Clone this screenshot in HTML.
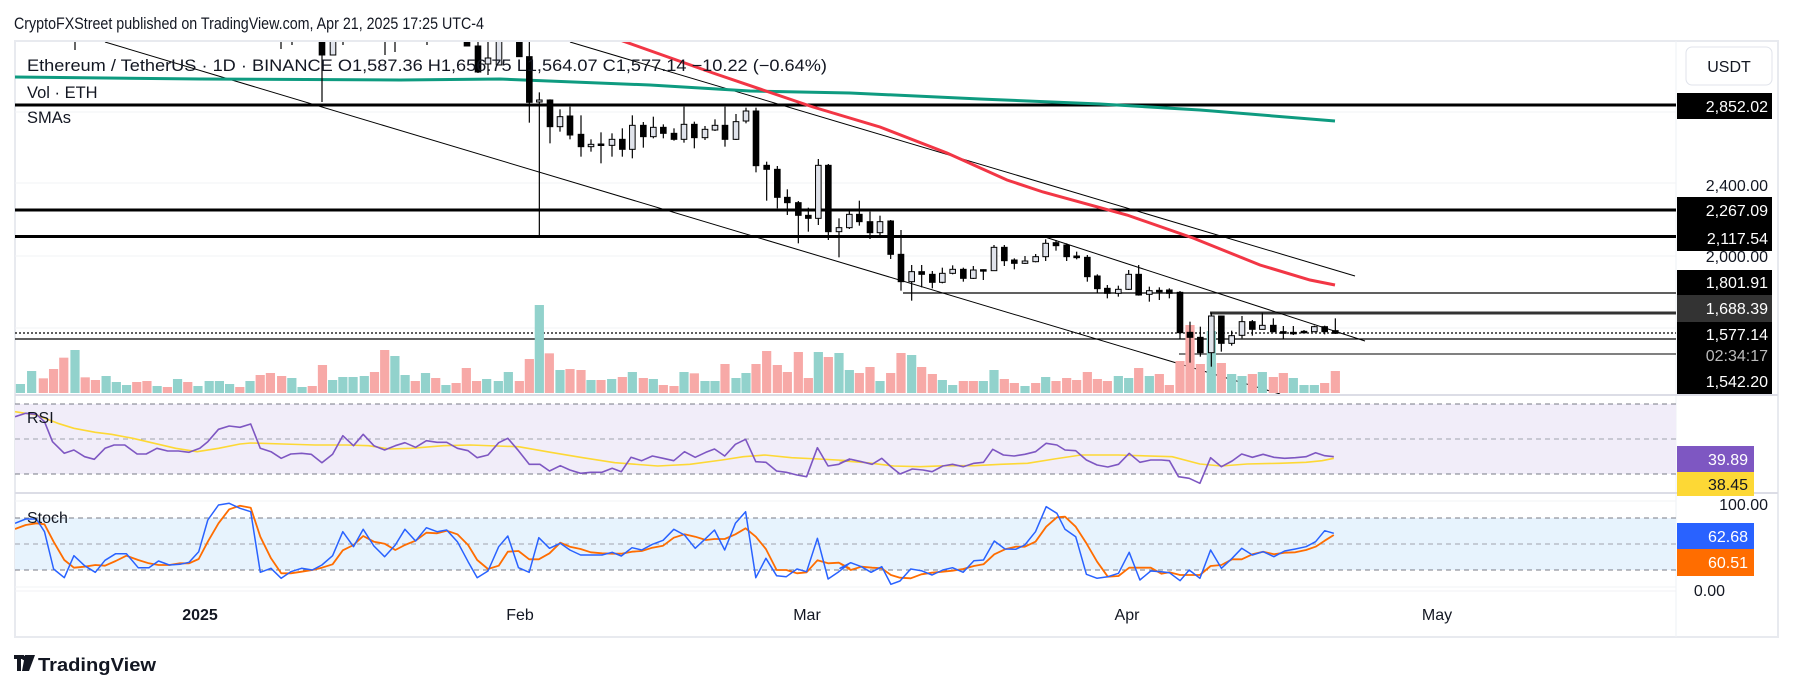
<!DOCTYPE html>
<html><head><meta charset="utf-8">
<style>
html,body{margin:0;padding:0;background:#fff;}
svg{display:block;font-family:"Liberation Sans",sans-serif;}
</style></head>
<body>
<svg id="s" width="1793" height="689" viewBox="0 0 1793 689" xmlns="http://www.w3.org/2000/svg">
<rect width="1793" height="689" fill="#fff"/>
<text x="14" y="29" font-size="17" fill="#131722" textLength="470" lengthAdjust="spacingAndGlyphs">CryptoFXStreet published on TradingView.com, Apr 21, 2025 17:25 UTC-4</text>
<!-- frame -->
<rect x="15" y="41" width="1763" height="596" fill="none" stroke="#e8eaef" stroke-width="2"/>
<line x1="1676" y1="41" x2="1676" y2="637" stroke="#eef0f4" stroke-width="1"/>
<line x1="15" y1="395" x2="1778" y2="395" stroke="#dcdde6" stroke-width="2"/>
<line x1="15" y1="493" x2="1778" y2="493" stroke="#dcdde6" stroke-width="2"/>
<line x1="15" y1="591" x2="1676" y2="591" stroke="#f0f1f4" stroke-width="1"/>
<!-- grid -->
<g stroke="#f2f3f6" stroke-width="1">
<line x1="15" y1="183" x2="1676" y2="183"/><line x1="15" y1="256" x2="1676" y2="256"/><line x1="15" y1="328" x2="1676" y2="328"/><line x1="15" y1="112" x2="1676" y2="112"/>
<line x1="15" y1="501" x2="1676" y2="501"/><line x1="15" y1="587" x2="1676" y2="587"/>
</g>
<!-- RSI band -->
<rect x="15" y="404" width="1661" height="70" fill="#f1edf9"/>
<g stroke="#787b86" stroke-width="1" stroke-dasharray="5 4">
<line x1="15" y1="404" x2="1676" y2="404"/><line x1="15" y1="474" x2="1676" y2="474"/>
</g>
<line x1="15" y1="439" x2="1676" y2="439" stroke="#a0a3ad" stroke-width="1" stroke-dasharray="5 4"/>
<!-- Stoch band -->
<rect x="15" y="518" width="1661" height="52" fill="#e7f3fd"/>
<g stroke="#787b86" stroke-width="1" stroke-dasharray="5 4">
<line x1="15" y1="518" x2="1676" y2="518"/><line x1="15" y1="570" x2="1676" y2="570"/>
</g>
<line x1="15" y1="544" x2="1676" y2="544" stroke="#a0a3ad" stroke-width="1" stroke-dasharray="5 4"/>

<defs><clipPath id="mc"><rect x="15" y="42" width="1661" height="352"/></clipPath>
<clipPath id="pc"><rect x="15" y="396" width="1661" height="195"/></clipPath></defs>

<g id="main" clip-path="url(#mc)"></g>
<g id="ind" clip-path="url(#pc)"></g>

<!-- pane texts -->
<text x="27" y="71" font-size="16.5" fill="#131722" textLength="800" lengthAdjust="spacingAndGlyphs">Ethereum / TetherUS · 1D · BINANCE  O1,587.36  H1,656.75  L1,564.07  C1,577.14  −10.22 (−0.64%)</text>
<text x="27" y="98" font-size="16.5" fill="#131722">Vol · ETH</text>
<text x="27" y="123" font-size="16.5" fill="#131722">SMAs</text>
<text x="27" y="423" font-size="16" fill="#131722">RSI</text>
<text x="27" y="523" font-size="16" fill="#131722">Stoch</text>

<!-- price axis -->
<rect x="1686" y="47" width="86" height="38" rx="6" fill="#fff" stroke="#e0e3eb"/>
<text x="1729" y="72" font-size="16" fill="#131722" text-anchor="middle">USDT</text>
<g font-size="16" text-anchor="end">
<rect x="1677" y="93" width="95" height="26" fill="#000"/><text x="1768" y="112" fill="#fff">2,852.02</text>
<text x="1768" y="191" fill="#131722">2,400.00</text>
<rect x="1677" y="197" width="95" height="54" fill="#000"/><text x="1768" y="216" fill="#fff">2,267.09</text>
<text x="1768" y="244" fill="#fff">2,117.54</text>
<text x="1768" y="262" fill="#131722">2,000.00</text>
<rect x="1677" y="270" width="95" height="25" fill="#000"/><text x="1768" y="288" fill="#fff">1,801.91</text>
<rect x="1677" y="295" width="95" height="27" fill="#333"/><text x="1768" y="314" fill="#fff">1,688.39</text>
<rect x="1677" y="322" width="95" height="72" fill="#000"/><text x="1768" y="340" fill="#fff">1,577.14</text>
<text x="1768" y="361" fill="#bbb">02:34:17</text>
<text x="1768" y="387" fill="#fff">1,542.20</text>
<rect x="1677" y="446" width="77" height="26" fill="#7e57c2"/><text x="1748" y="465" fill="#fff">39.89</text>
<rect x="1677" y="472" width="77" height="24" fill="#fdd835"/><text x="1748" y="490" fill="#131722">38.45</text>
<text x="1768" y="510" fill="#131722">100.00</text>
<rect x="1677" y="523" width="77" height="26" fill="#2962ff"/><text x="1748" y="542" fill="#fff">62.68</text>
<rect x="1677" y="549" width="77" height="27" fill="#ff6d00"/><text x="1748" y="568" fill="#fff">60.51</text>
<text x="1725" y="596" fill="#131722">0.00</text>
</g>
<!-- time axis -->
<g font-size="16" fill="#131722" text-anchor="middle">
<text x="200" y="620" font-weight="bold">2025</text>
<text x="520" y="620">Feb</text><text x="807" y="620">Mar</text><text x="1127" y="620">Apr</text><text x="1437" y="620">May</text>
</g>
<!-- logo -->
<g transform="translate(14,655)">
<path d="M0 0h10v4h-3v12h-4v-12h-3z M11 0h5l-4 16h-4z" fill="#131722"/>
<circle cx="10" cy="3" r="2.2" fill="#131722"/>
<path d="M12 0h9l-6 16h-5z" fill="#131722"/>
</g>
<text x="38" y="671" font-size="18" font-weight="bold" fill="#131722" textLength="118" lengthAdjust="spacingAndGlyphs">TradingView</text>

<script>
var NS="http://www.w3.org/2000/svg";
function E(t,a,p){var e=document.createElementNS(NS,t);for(var k in a)e.setAttribute(k,a[k]);p.appendChild(e);return e;}
var M=document.getElementById('main'), I=document.getElementById('ind');
// horizontal levels
E('line',{x1:15,y1:105,x2:1676,y2:105,stroke:'#000','stroke-width':3},M);
E('line',{x1:15,y1:210,x2:1676,y2:210,stroke:'#000','stroke-width':3},M);
E('line',{x1:15,y1:236.5,x2:1676,y2:236.5,stroke:'#000','stroke-width':3},M);
E('line',{x1:903,y1:293,x2:1676,y2:293,stroke:'#000','stroke-width':1.3},M);
E('line',{x1:1210,y1:313,x2:1676,y2:313,stroke:'#333','stroke-width':3},M);
E('line',{x1:15,y1:333,x2:1676,y2:333,stroke:'#000','stroke-width':1.2,'stroke-dasharray':'2 2'},M);
E('line',{x1:15,y1:339,x2:1676,y2:339,stroke:'#000','stroke-width':1.2},M);
E('line',{x1:1179,y1:354,x2:1676,y2:354,stroke:'#000','stroke-width':1},M);
// diagonals
E('line',{x1:105,y1:42,x2:1280,y2:394,stroke:'#000','stroke-width':1},M);
E('line',{x1:570,y1:42,x2:1355,y2:276,stroke:'#000','stroke-width':1},M);
E('line',{x1:1045,y1:237,x2:1365,y2:341,stroke:'#000','stroke-width':1},M);
// SMAs
E('polyline',{points:'15,77 200,79 400,80 500,79 650,85 750,91 850,93 980,99 1100,104 1200,110 1335,121',fill:'none',stroke:'#0e9b80','stroke-width':3},M);
E('polyline',{points:'600,34 620,40 713,73 813,107 880,127 947,153 1007,180 1043,192 1127,215 1193,238 1260,265 1310,280 1335,285',fill:'none',stroke:'#f23645','stroke-width':3},M);
// volume
var V=[];
var z2="40:1152t 62:1113t 85:1135p 105:1107p 125:1073p 147:1050t 167:1132p 187:1140p 208:1128t 228:1146t 248:1155t 268:1146p 288:1143p 308:1158t 328:1161p 348:1137t 368:1146p 388:1158t 410:1143t 430:1143t 450:1152t 470:1161p 490:1143t 510:1125p 530:1119p 552:1128p 572:1134t 592:1161t 612:1158p 632:1095p 652:1140t 672:1131t 692:1131t 714:1128t 734:1116p 754:1050p 774:1068t 794:1125t 814:1143p 834:1119t 854:1134p 874:1155t 894:1149p 914:1104p 934:1143p";
z2.split(' ').forEach(function(s){var m=s.match(/(\d+):(\d+)([tp])/);V.push([m[1]/1.96,m[2]/3,m[3]]);});
var z3="20:1017t 55:1023t 85:996t 118:1023p 148:957p 178:795t 208:940p 240:990t 270:987p 303:990p 333:1020t 363:1020p 395:1017t 427:1011p 457:996t 490:1014p 520:1017t 550:1035p 582:1038p 612:996t 643:1000p 675:1023t 705:1023t 735:972p 768:1014t 798:999t 828:972p 860:933p 892:975p 922:996p 955:936p 985:1014p 1015:936t 1045:951p 1077:939t 1108:990t 1138:999p 1170:981p 1200:1023t 1232:999p 1263:939p 1295:945t 1325:981p 1357:1002p 1387:1020t 1418:1035t 1450:1023p 1480:1023p";
z3.split(' ').forEach(function(s){var m=s.match(/(\d+):(\d+)([tp])/);V.push([480+m[1]/3,40+m[2]/3,m[3]]);});
var z4="70:603t 102:570t 133:597p 163:609p 195:618t 227:609p 257:591t 288:603p 320:594p 350:600p 382:576p 412:597p 442:603p 475:588t 506:594t 536:564p 568:588t 598:582p 628:615p 660:543p 690:435p 721:552p 754:453t 784:549p 815:582t 846:588t 877:582p 907:576t 940:591p 970:579p 1000:594t 1032:615t 1063:615t 1094:609p 1126:573p";
z4.split(' ').forEach(function(s){var m=s.match(/(\d+):(\d+)([tp])/);V.push([960+m[1]/3,180+m[2]/3,m[3]]);});
V.forEach(function(v){E('rect',{x:v[0]-4.6,y:v[1],width:9.2,height:393-v[1],fill:v[2]=='t'?'#92d2cc':'#f7a9a7'},M);});
// candles [x, bodyTop, bodyBot, wickTop, wickBot, bull]
var C=[];
[[75,0,0,40,50,2],[281,0,0,40,49,2],[292,0,0,40,45,2],[322,40,55,40,102,0],[333,40,55,40,55,1],[343,0,0,40,45,2],[385,0,0,40,55,2],[395,0,0,40,52,2],[427,0,0,40,45,2],[467,40,46,40,46,0],[478,46,72,40,73,0],[488,58,64,40,75,1],[499,40,65,40,65,1]].forEach(function(c){C.push(c);});
var a3=[[118,0,50,0,50,0],[148,50,187,0,248,0],[178,180,186,157,585,1],[210,180,260,178,310,0],[240,230,260,208,275,1],[270,228,285,200,298,0],[303,283,320,226,350,0],[333,313,320,298,335,1],[363,312,315,277,370,0],[396,298,316,280,350,1],[427,298,328,265,350,0],[457,256,328,226,355,1],[490,256,290,246,323,0],[520,262,290,230,295,1],[550,262,280,253,295,0],[582,280,298,265,302,0],[612,253,298,200,308,1],[643,253,293,245,325,0],[675,268,293,258,300,1],[705,256,270,238,273,1],[735,256,298,200,320,0],[768,245,298,222,300,1],[798,213,243,203,250,1],[828,213,377,203,397,0],[860,376,388,365,482,0],[892,388,472,378,505,0],[922,472,488,448,525,0],[955,488,526,483,610,0],[985,526,535,503,575,0],[1015,376,535,357,555,1],[1045,376,575,372,600,0],[1077,563,575,535,652,1],[1108,523,563,513,567,1],[1138,523,545,482,557,0],[1170,545,578,515,597,0],[1200,545,578,527,585,1],[1232,543,643,540,657,0],[1263,643,725,570,752,0],[1295,695,725,675,782,1],[1325,695,703,675,742,0],[1357,703,727,693,745,0],[1387,700,727,683,730,1],[1418,688,700,676,703,1],[1450,688,715,683,725,0],[1480,690,715,678,717,1]];
a3.forEach(function(c){C.push([480+c[0]/3,40+c[1]/3,40+c[2]/3,40+c[3]/3,40+c[4]/3,c[5]]);});
var a4=[[70,269,271,268,300,0],[102,202,272,195,272,1],[133,202,242,195,258,0],[163,240,250,235,268,0],[195,243,250,228,252,1],[227,230,245,222,247,1],[257,190,230,178,243,1],[288,188,197,180,212,0],[320,195,230,190,243,0],[350,228,233,215,238,0],[382,232,290,225,305,0],[412,288,326,283,340,0],[442,325,340,315,355,0],[475,328,340,317,350,1],[506,283,328,270,330,1],[536,283,345,255,347,0],[568,332,343,320,365,1],[598,331,333,322,360,0],[628,330,340,325,355,0],[660,337,458,333,478,0],[690,457,472,425,548,0],[721,472,518,440,530,0],[754,408,518,398,560,1],[784,408,490,408,515,0],[815,467,490,452,497,1],[846,425,466,408,475,1],[877,425,448,420,467,0],[907,436,448,398,449,1],[940,436,455,415,457,0],[970,455,460,438,477,0],[1000,457,460,438,465,0],[1032,454,456,450,458,0],[1063,440,455,437,457,1],[1094,440,455,437,463,0],[1126,452,460,415,462,0]];
a4.forEach(function(c){C.push([960+c[0]/3,180+c[1]/3,180+c[2]/3,180+c[3]/3,180+c[4]/3,c[5]]);});
C.forEach(function(c){
 E('line',{x1:c[0],y1:c[3],x2:c[0],y2:c[4],stroke:'#000','stroke-width':1.2},M);
 if(c[5]==2)return;
 var h=Math.max(1.5,c[2]-c[1]);
 E('rect',{x:c[0]-2.8,y:c[1],width:5.6,height:h,fill:c[5]?'#e0e3eb':'#000',stroke:'#000','stroke-width':1},M);
});
// indicators
function P(str,ox,col,w){
 var pts=str.trim().split(/\s+/).map(function(p){var q=p.split(',');return (ox+q[0]/1.867).toFixed(1)+','+(395+q[1]/3).toFixed(1);});
 return pts.join(' ');
}
var rsi6="0,65 20,55 40,58 55,80 70,140 92,175 110,165 130,185 148,193 168,160 185,150 205,150 228,177 245,177 265,160 285,168 305,168 325,172 345,160 360,140 380,103 400,93 420,97 440,87 458,160 478,170 497,190 515,177 535,175 553,178 573,203 593,178 612,122 632,152 650,118 670,152 690,165 710,152 728,143 748,157 768,137 788,142 806,142 826,160 846,167 863,188 883,180 903,143 920,130 940,167 960,208 980,208 998,228 1018,212 1036,225 1056,235 1075,232 1096,232 1115,220 1132,230 1150,187 1170,197 1190,183 1210,190 1230,197 1250,170 1270,187 1290,172 1306,162 1325,183 1345,148 1364,133 1383,200 1402,202 1422,228 1440,232 1460,240 1478,245 1498,158 1518,213 1538,208 1558,192";
var rsi7="0,205 20,193 40,200 60,208 78,190 95,215 112,237 135,222 155,225 172,230 192,213 210,208 230,215 250,205 268,202 285,163 305,180 325,183 345,178 365,170 385,145 405,150 420,165 440,167 460,195 480,210 500,216 520,208 540,175 560,202 580,195 600,195 615,197 632,245 652,250 672,265 692,188 712,215 732,198 750,177 770,187 790,178 810,187 830,190 850,188 870,185 888,173 905,182 922,185";
var ma6="0,50 40,60 80,85 110,100 150,112 180,118 220,130 260,145 300,160 340,170 380,160 420,147 440,144 500,147 560,150 620,150 660,152 700,162 740,160 800,152 850,150 900,153 940,155 1000,172 1060,188 1120,203 1200,213 1260,208 1320,195 1360,185 1400,180 1450,188 1500,192 1558,197";
var ma7="0,197 50,203 100,213 150,215 200,212 250,212 300,208 350,205 400,192 450,180 520,180 560,182 620,185 672,207 712,213 760,207 820,205 870,202 900,197 922,190";
var b6="0,385 20,372 40,372 55,410 72,522 92,548 110,482 130,512 150,532 168,496 188,476 208,476 230,518 250,518 268,498 288,510 308,508 325,502 343,470 360,375 380,330 400,325 420,340 440,350 458,532 478,520 497,550 515,530 535,520 555,525 573,510 593,482 612,410 632,455 650,403 670,453 690,485 710,450 728,403 748,438 768,398 788,410 806,405 826,440 846,500 863,548 883,528 903,455 920,423 940,518 960,532 978,428 998,460 1018,445 1036,465 1056,480 1075,480 1096,480 1115,472 1132,483 1152,458 1170,465 1190,448 1210,436 1230,403 1250,420 1270,460 1290,430 1306,405 1325,465 1345,385 1364,350 1383,548 1402,490 1422,542 1440,545 1460,522 1478,530 1498,430 1518,552 1538,530 1558,505";
var o6="0,402 20,390 40,385 55,388 72,440 92,495 110,518 130,515 150,510 168,512 188,498 208,482 230,495 250,505 268,510 288,510 308,505 325,505 343,492 360,440 380,385 400,343 420,332 440,338 458,425 478,490 497,535 515,535 535,530 555,525 573,518 593,508 612,466 632,450 650,423 670,440 690,446 710,465 728,450 748,437 768,413 788,415 806,407 826,418 846,450 863,495 883,522 903,512 920,470 940,468 960,493 978,493 998,475 1018,443 1036,455 1056,462 1075,472 1096,475 1115,476 1132,476 1152,470 1170,468 1190,458 1210,452 1230,428 1250,418 1270,425 1290,435 1306,432 1325,432 1345,418 1364,400 1383,425 1402,462 1422,525 1440,525 1460,535 1478,532 1498,496 1518,505 1538,503 1558,520";
var b7="0,520 20,503 40,515 58,532 78,515 95,568 112,558 132,522 152,527 172,540 192,525 210,518 230,532 250,497 268,495 288,438 308,462 328,463 345,450 365,410 385,335 405,355 420,403 440,425 460,538 480,550 500,545 520,535 540,472 560,555 580,528 600,530 615,533 635,557 652,525 672,550 692,465 712,520 732,490 750,460 770,480 790,470 810,485 830,468 850,462 870,455 888,440 905,407 922,415";
var o7="0,505 20,525 40,515 60,518 78,520 95,540 112,548 132,550 152,538 172,533 192,530 210,527 230,522 250,513 268,508 288,478 308,463 328,455 345,455 365,440 385,395 405,367 420,365 440,395 460,445 480,500 500,545 520,543 540,518 560,518 580,518 600,536 615,532 635,540 652,540 672,540 692,513 712,510 732,493 750,493 770,478 790,470 810,478 830,473 850,472 870,465 888,455 905,437 922,420";
function L(a,b,col,w){E('polyline',{points:P(a,15)+' '+P(b,840),fill:'none',stroke:col,'stroke-width':w,'stroke-linejoin':'round'},I);}
L(ma6,ma7,'#fdd835',1.6);
L(rsi6,rsi7,'#7e57c2',1.6);
L(o6,o7,'#ff6d00',1.8);
L(b6,b7,'#2962ff',1.5);
</script>
</svg>
</body></html>
